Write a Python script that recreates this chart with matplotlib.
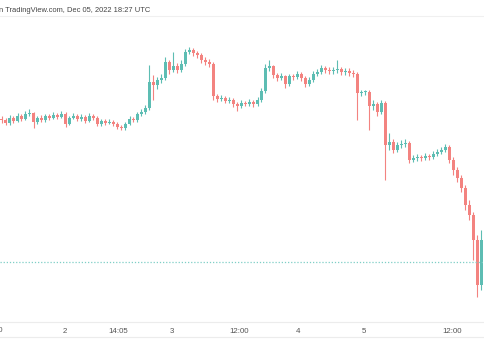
import numpy as np
import matplotlib
matplotlib.use("Agg")
import matplotlib.pyplot as plt
from matplotlib.lines import Line2D

# 15-ish minute candles, Dec 1 - Dec 5 2022 (price axis is cropped off in the reference)
close = [17260, 17254, 17264, 17258, 17268, 17262, 17272, 17274, 17256, 17264,
         17260, 17268, 17264, 17270, 17266, 17272, 17252, 17264, 17268, 17262,
         17266, 17258, 17268, 17264, 17252, 17258, 17254, 17256, 17252, 17246,
         17244, 17252, 17262, 17260, 17272, 17276, 17284, 17336, 17330, 17340,
         17344, 17376, 17360, 17368, 17360, 17372, 17396, 17400, 17394, 17390,
         17380, 17376, 17372, 17308, 17302, 17304, 17298, 17300, 17292, 17288,
         17294, 17292, 17296, 17292, 17300, 17318, 17364, 17368, 17350, 17344,
         17348, 17332, 17348, 17346, 17352, 17344, 17332, 17340, 17352, 17356,
         17364, 17360, 17358, 17360, 17362, 17356, 17358, 17354, 17352, 17314,
         17316, 17316, 17288, 17292, 17276, 17294, 17210, 17216, 17200, 17210,
         17212, 17214, 17180, 17184, 17186, 17184, 17188, 17186, 17192, 17196,
         17200, 17206, 17180, 17160, 17144, 17124, 17090, 17070, 17020, 16930,
         17020]
high = [17268, 17264, 17270, 17268, 17274, 17272, 17278, 17282, 17276, 17268,
        17270, 17272, 17272, 17276, 17274, 17278, 17276, 17268, 17274, 17272,
        17272, 17270, 17274, 17272, 17268, 17262, 17262, 17262, 17260, 17256,
        17250, 17256, 17268, 17266, 17276, 17282, 17290, 17370, 17350, 17346,
        17352, 17386, 17380, 17396, 17374, 17380, 17402, 17406, 17404, 17398,
        17394, 17386, 17382, 17376, 17312, 17310, 17308, 17306, 17304, 17296,
        17300, 17298, 17302, 17300, 17306, 17324, 17372, 17380, 17370, 17354,
        17354, 17350, 17352, 17352, 17358, 17356, 17348, 17346, 17358, 17362,
        17370, 17368, 17366, 17366, 17380, 17366, 17364, 17364, 17360, 17356,
        17320, 17320, 17320, 17300, 17296, 17300, 17298, 17234, 17222, 17216,
        17220, 17222, 17218, 17190, 17192, 17190, 17194, 17192, 17198, 17202,
        17206, 17212, 17210, 17186, 17166, 17150, 17130, 17100, 17076, 17030,
        17040]
low = [17254, 17250, 17250, 17254, 17256, 17258, 17260, 17268, 17244, 17252,
       17256, 17256, 17260, 17262, 17262, 17264, 17246, 17250, 17262, 17258,
       17258, 17254, 17256, 17260, 17248, 17248, 17250, 17252, 17248, 17242,
       17240, 17240, 17250, 17256, 17256, 17268, 17272, 17280, 17300, 17322,
       17334, 17340, 17352, 17356, 17354, 17356, 17368, 17392, 17388, 17384,
       17374, 17370, 17366, 17300, 17296, 17298, 17294, 17294, 17286, 17278,
       17284, 17288, 17288, 17286, 17288, 17296, 17314, 17358, 17344, 17338,
       17340, 17324, 17328, 17340, 17342, 17338, 17326, 17328, 17336, 17348,
       17352, 17354, 17352, 17352, 17354, 17350, 17350, 17348, 17346, 17260,
       17308, 17310, 17240, 17280, 17268, 17272, 17140, 17200, 17194, 17196,
       17204, 17206, 17174, 17176, 17178, 17178, 17180, 17180, 17182, 17188,
       17192, 17196, 17174, 17150, 17136, 17116, 17080, 17060, 16980, 16906,
       16920]
first_open = 17262
ref_level = 16976

x_labels = ["2", "14:05", "3", "12:00", "4", "5", "12:00"]
x_label_pos = [15.9, 29.2, 42.6, 59.4, 74.1, 90.6, 112.6]

# TradingView up/down colours, lightened as they look in the screenshot
up_col = "#5dbdb3"
down_col = "#f38380"
font = ["Liberation Sans", "DejaVu Sans"]

opn = np.array([first_open] + close[:-1])
cls = np.array(close)
hi = np.array(high)
lo = np.array(low)
idx = np.arange(len(cls))
is_up = cls >= opn
cols = [up_col if u else down_col for u in is_up]

fig = plt.figure(figsize=(4.85, 3.6), dpi=100)
ax = fig.add_axes([0, (360 - 322) / 360, 1, (322 - 15) / 360])

ax.vlines(idx, lo, hi, colors=cols, linewidth=0.8)
body_bottom = np.minimum(opn, cls)
body_h = np.maximum(np.abs(cls - opn), 1.5)
ax.bar(idx, body_h, bottom=body_bottom, width=0.55, color=cols, linewidth=0)

ax.axhline(ref_level, color="#7fcfc6", linestyle=(0, (1, 1.5)), linewidth=0.9)

ax.set_xlim(-0.375, 120.875)
ax.set_ylim(16856, 17470)
ax.set_xticks([])
ax.set_yticks([])
for s in ["top", "left", "right"]:
    ax.spines[s].set_visible(False)
ax.spines["bottom"].set_color("#ececec")
ax.spines["bottom"].set_linewidth(0.8)

# time axis labels (first one is cut off at the left edge, as in the screenshot)
for lab, p in zip(x_labels, x_label_pos):
    ax.text(p, -0.03, lab, transform=ax.get_xaxis_transform(), ha="center",
            va="center", fontsize=5.7, color="#555555", family=font)
fig.text(-7 / 485, 1 - 331 / 360, "12:00", ha="center", va="center",
         fontsize=5.7, color="#555555", family=font)

# header and frame lines
fig.text(150 / 485, 1 - 10.5 / 360,
         "published on TradingView.com, Dec 05, 2022 18:27 UTC",
         ha="right", va="center", fontsize=5.4, color="#444444", family=font)
fig.add_artist(Line2D([0, 1], [1 - 16 / 360, 1 - 16 / 360], color="#f0f0f0",
                      linewidth=0.8))
fig.add_artist(Line2D([0, 1], [1 - 337 / 360, 1 - 337 / 360], color="#ececec",
                      linewidth=0.8))

fig.savefig("out.png", dpi=100)
